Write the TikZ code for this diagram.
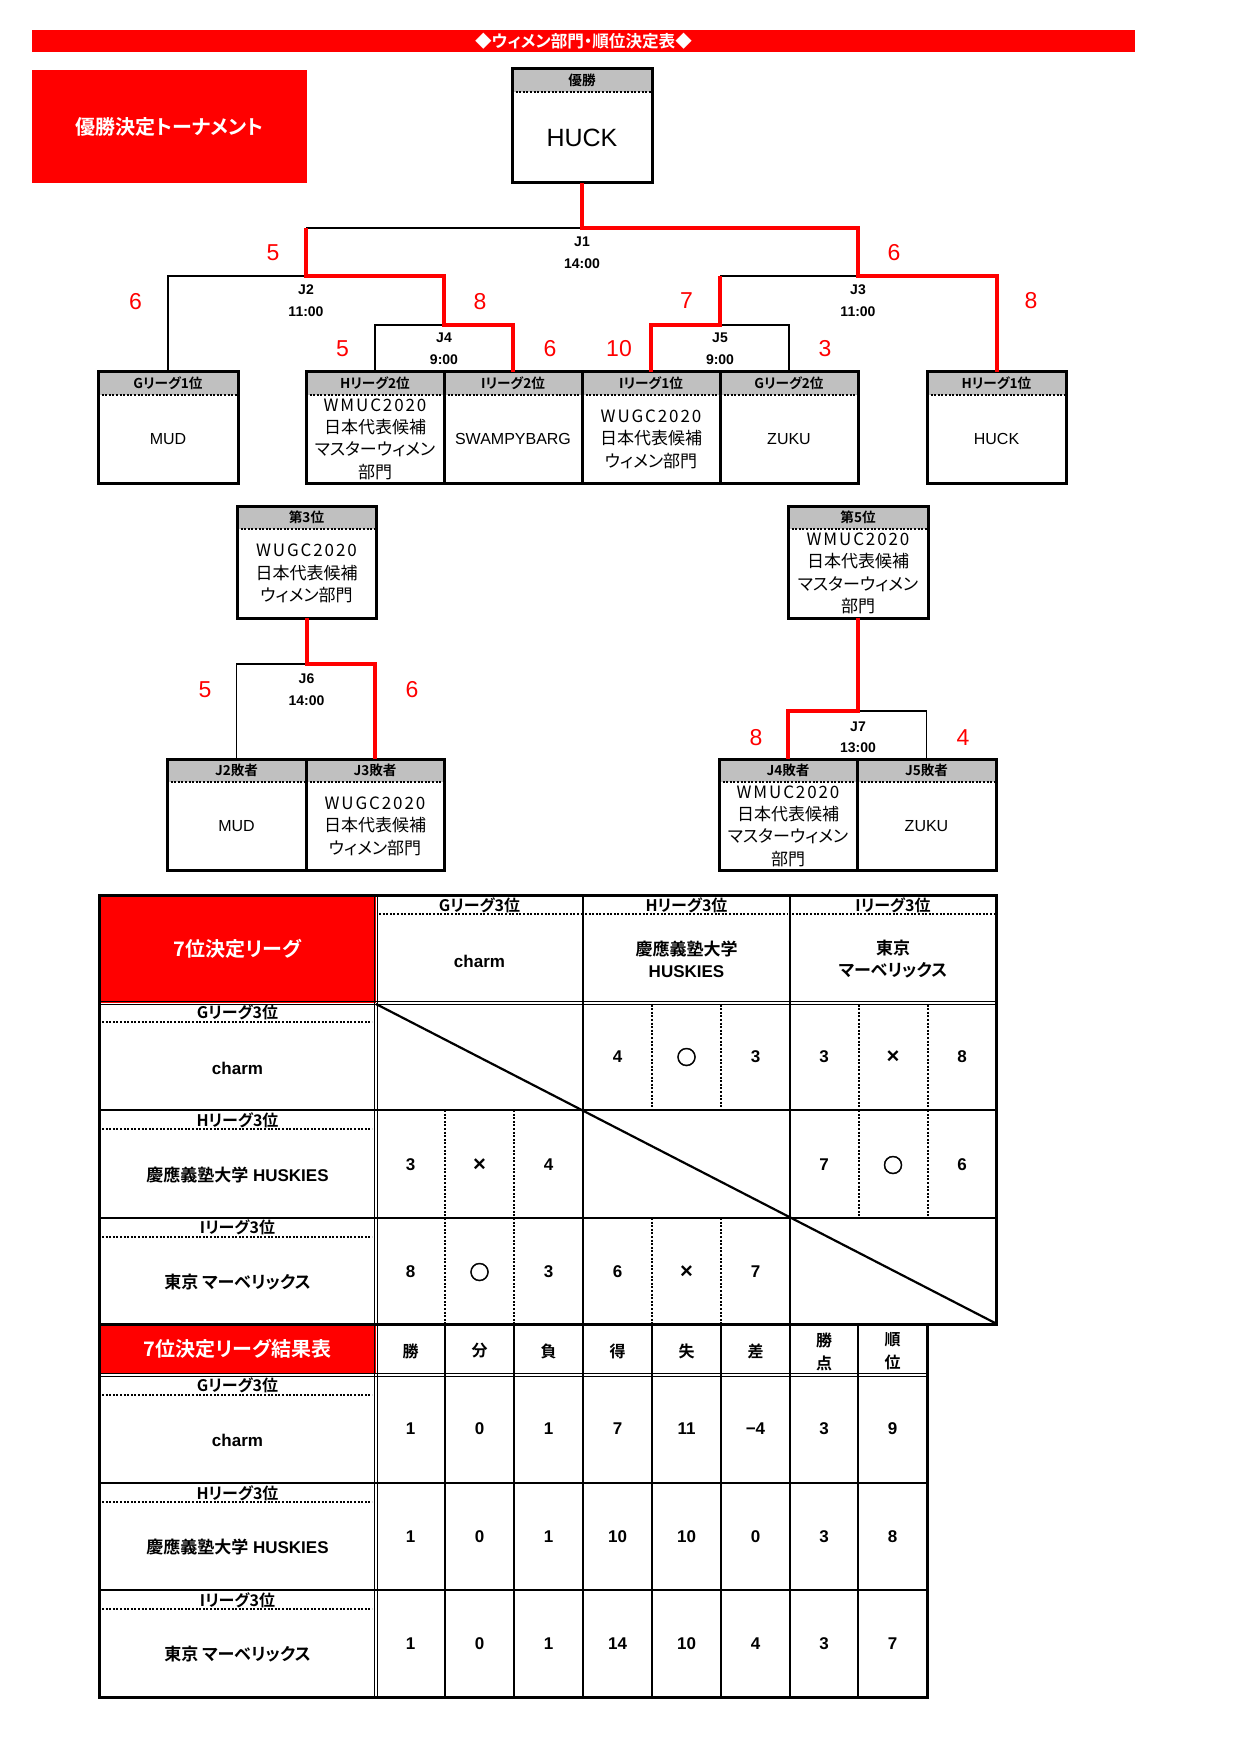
\documentclass[tikz,border=0pt]{standalone}
\usepackage{fontspec}
\setmainfont{Liberation Sans}
\newfontfamily\jp{Noto Sans CJK JP}[BoldFont={Noto Sans CJK JP Bold},RawFeature=+palt]
\newfontfamily\jpw{Noto Sans CJK JP}[LetterSpace=11]
\newfontfamily\maru{Noto Sans CJK JP Bold}[FakeBold=2.5]
\usetikzlibrary{calc,fit}
\definecolor{rd}{HTML}{FF0000}
\definecolor{hdrgray}{HTML}{C0C0C0}
\newcommand\TeamBox[7]{%
  \node[tframe, fit={(#2,#3) (#4,#5)}] (#1) {};
  \node[hdrtxt] (#1-h) at ($(#1.north)+(0,11.5)$) {#6};
  \node[conttxt] (#1-c) at ($(#1.center)+(0,11.5)$) {#7};
}
\newcommand\Maru{{\maru\fontsize{10}{10}\selectfont ○}}
\newcommand\Batsu{{\fontsize{11}{11}\selectfont ×}}
\newcommand\lt{\rmfamily\fontsize{8}{10}\selectfont}
\begin{document}
\begin{tikzpicture}[x=0.5pt,y=-0.5pt,
  tframe/.style={draw=black, line width=1.5pt, inner sep=0pt, outer sep=0pt,
    path picture={
      \fill[hdrgray] (path picture bounding box.north west) rectangle ([yshift=-11.5pt]path picture bounding box.north east);
      \draw[line width=1pt, dash pattern=on 1pt off 0.8pt] ([yshift=-11.5pt]path picture bounding box.north west) -- ([yshift=-11.5pt]path picture bounding box.north east);
    }},
  hdrtxt/.style={inner sep=0pt, font=\jp\bfseries\fontsize{6.8}{8}\selectfont},
  conttxt/.style={inner sep=0pt, align=center, font=\jp\fontsize{8.5}{11.2}\selectfont},
  lose/.style={draw=black, line width=0.75pt},
  win/.style={draw=rd, line width=2pt},
  score/.style={inner sep=0pt, text=rd, font=\fontsize{11.5}{13}\selectfont},
  jlab/.style={inner sep=0pt, font=\bfseries\fontsize{7}{8}\selectfont},
  gridln/.style={line width=0.75pt},
  dblln/.style={line width=0.6pt},
  dotln/.style={line width=1pt, dash pattern=on 1pt off 0.8pt},
  tlab/.style={inner sep=0pt, anchor=base, font=\jp\bfseries\fontsize{8}{9}\selectfont},
  tname/.style={inner sep=0pt, align=center, font=\bfseries\fontsize{8.5}{11}\selectfont},
  valtxt/.style={inner sep=0pt, font=\bfseries\fontsize{8.5}{10}\selectfont},
  hdr2/.style={inner sep=0pt, align=center, font=\jp\bfseries\fontsize{8}{11.5}\selectfont},
  whitetitle/.style={inner sep=0pt, text=white, font=\jp\bfseries\fontsize{10}{12}\selectfont},
  redcell/.style={fill=rd, inner sep=0pt, outer sep=0pt},
]
\useasboundingbox (0,0) rectangle (1240,1754);
\fill[white] (0,0) rectangle (1240,1754);

% ---------- title ----------
\node[redcell, fit={(32,30) (1135,52)}] (titlebar) {};
\node[inner sep=0pt, text=white, font=\jp\bfseries\fontsize{8.3}{9}\selectfont] (titletext) at (titlebar.center) {◆ウィメン部門・順位決定表◆};
\node[redcell, fit={(32,70) (307,183)}] (tourbox) {};
\node[whitetitle] (tourtext) at (tourbox.center) {優勝決定トーナメント};

% ---------- boxes ----------
\TeamBox{champ}{512}{69}{652}{183}{優勝}{\rmfamily\fontsize{12.5}{14}\selectfont HUCK}
\TeamBox{mud}{98}{372}{238}{483}{Gリーグ1位}{\lt MUD}
\TeamBox{h2}{306}{372}{444}{483}{Hリーグ2位}{{\jpw WMUC2020}\\日本代表候補\\マスターウィメン\\部門}
\TeamBox{i2}{444}{372}{582}{483}{Iリーグ2位}{\lt SWAMPYBARG}
\TeamBox{i1}{582}{372}{720}{483}{Iリーグ1位}{{\jpw WUGC2020}\\日本代表候補\\ウィメン部門}
\TeamBox{g2}{720}{372}{858}{483}{Gリーグ2位}{\lt ZUKU}
\TeamBox{h1}{927}{372}{1066}{483}{Hリーグ1位}{\lt HUCK}
\TeamBox{third}{237}{506}{376}{618}{第3位}{{\jpw WUGC2020}\\日本代表候補\\ウィメン部門}
\TeamBox{fifth}{788}{506}{928}{618}{第5位}{{\jpw WMUC2020}\\日本代表候補\\マスターウィメン\\部門}
\TeamBox{j2l}{167}{759}{306}{870}{J2敗者}{\lt MUD}
\TeamBox{j3l}{306}{759}{444}{870}{J3敗者}{{\jpw WUGC2020}\\日本代表候補\\ウィメン部門}
\TeamBox{j4l}{719}{759}{857}{870}{J4敗者}{{\jpw WMUC2020}\\日本代表候補\\マスターウィメン\\部門}
\TeamBox{j5l}{857}{759}{996}{870}{J5敗者}{\lt ZUKU}

% ---------- junctions ----------
\coordinate (J1) at (582,228); \coordinate (J1L) at (306,228);
\coordinate (J2) at (306,276);
\coordinate (J3) at (858,276); \coordinate (J3L) at (720,276);
\coordinate (J4) at (444,325);
\coordinate (J5) at (720,325);
\coordinate (J6) at (306.5,664);
\coordinate (J7) at (858,711);

% losing branches
\draw[lose] (mud.north) |- (J2);
\draw[lose] (h2.north) |- (J4);
\draw[lose] (J1L) -- (J1);
\draw[lose] (g2.north) |- (J5);
\draw[lose] (J3L) -- (J3);
\draw[lose] (j2l.north) |- (J6);
\draw[lose] (j5l.north) |- (J7);
% winning branches
\draw[win] (i2.north) |- (J4) |- (J2) -- (J1L);
\draw[win] (i1.north) |- (J5) -- (J3L);
\draw[win] (h1.north) |- (J3) |- (J1) -- (champ.south);
\draw[win] (j3l.north) |- (J6) -- (third.south);
\draw[win] (j4l.north) |- (J7) -- (fifth.south);

% match labels
\node[jlab] (J1a) at (582,242) {J1}; \node[jlab] (J1b) at (582,264) {14:00};
\node[jlab] (J2a) at (306,290) {J2}; \node[jlab] (J2b) at (306,312) {11:00};
\node[jlab] (J3a) at (858,290) {J3}; \node[jlab] (J3b) at (858,312) {11:00};
\node[jlab] (J4a) at (444,338) {J4}; \node[jlab] (J4b) at (444,360) {9:00};
\node[jlab] (J5a) at (720,338) {J5}; \node[jlab] (J5b) at (720,360) {9:00};
\node[jlab] (J6a) at (306.5,679) {J6}; \node[jlab] (J6b) at (306.5,701) {14:00};
\node[jlab] (J7a) at (858,727) {J7}; \node[jlab] (J7b) at (858,748) {13:00};

% scores
\node[score] (s1) at (273,253) {5};
\node[score] (s2) at (894,253) {6};
\node[score] (s3) at (135.5,302) {6};
\node[score] (s4) at (480,302) {8};
\node[score] (s5) at (686.5,301) {7};
\node[score] (s6) at (1031,301) {8};
\node[score] (s7) at (342.5,349) {5};
\node[score] (s8) at (550,349) {6};
\node[score] (s9) at (619,349) {10};
\node[score] (s10) at (825,349) {3};
\node[score] (s11) at (205,690) {5};
\node[score] (s12) at (412,690) {6};
\node[score] (s13) at (756,738) {8};
\node[score] (s14) at (963,738) {4};

% ---------- league table ----------
\node[redcell, fit={(99,895) (376,1003)}] (lgtitle) {};
\node[whitetitle] (lgtitle-t) at (lgtitle.center) {7位決定リーグ};
\node[redcell, fit={(99,1324) (376,1373)}] (restitle) {};
\node[whitetitle] (restitle-t) at (restitle.center) {7位決定リーグ結果表};

% grid lines table 1
\draw[gridln] (583,895) -- (583,1324);
\draw[gridln] (790,895) -- (790,1324);
\draw[gridln] (99,1110) -- (996,1110);
\draw[gridln] (99,1218) -- (996,1218);
\draw[dblln] (99,1001.5) -- (996,1001.5);
\draw[dblln] (99,1004.5) -- (996,1004.5);
\draw[dblln] (374.5,895) -- (374.5,1697);
\draw[dblln] (377.5,895) -- (377.5,1697);
% dotted lines table 1
\draw[dotln] (379,914) -- (581,914);
\draw[dotln] (585,914) -- (788,914);
\draw[dotln] (792,914) -- (994,914);
\foreach \yy in {1022,1129,1237,1395,1502,1609}
  \draw[dotln] (102,\yy) -- (372,\yy);
\foreach \xx/\ya/\yb in {652/1004.5/1110, 721/1004.5/1110, 859/1004.5/1110, 928/1004.5/1110,
  445/1110/1218, 514/1110/1218, 859/1110/1218, 928/1110/1218,
  445/1218/1324, 514/1218/1324, 652/1218/1324, 721/1218/1324}
  \draw[dotln] (\xx,\ya) -- (\xx,\yb);
\draw[line width=1.1pt] (376,1004) -- (997,1324);

% grid lines results
\foreach \xx in {445,514,583,652,721}
  \draw[gridln] (\xx,1324) -- (\xx,1697);
\draw[line width=1.25pt] (790,1324) -- (790,1697);
\draw[line width=1.25pt] (858,1324) -- (858,1697);
\draw[dblln] (99,1373.5) -- (927,1373.5);
\draw[dblln] (99,1376.5) -- (927,1376.5);
\draw[gridln] (99,1483) -- (927,1483);
\draw[gridln] (99,1590) -- (927,1590);
\draw[line width=1.5pt] (99,895) rectangle (996,1324);
\draw[line width=1.5pt] (99,1324) rectangle (927,1697);

% column headers
\node[tlab] (cG-l) at (479.5,911) {Gリーグ3位};
\node[tlab] (cH-l) at (686.5,911) {Hリーグ3位};
\node[tlab] (cI-l) at (893,911) {Iリーグ3位};
\node[tname] (cG-n) at (479.5,961) {charm};
\node[tname] (cH-n) at (686.5,959) {{\jp 慶應義塾大学}\\HUSKIES};
\node[tname] (cI-n) at (893,959) {{\jp 東京}\\{\jp マーベリックス}};

% row headers table 1
\node[tlab] (rG-l) at (237.5,1018) {Gリーグ3位};
\node[tlab] (rH-l) at (237.5,1126) {Hリーグ3位};
\node[tlab] (rI-l) at (237.5,1233) {Iリーグ3位};
\node[tname] (rG-n) at (237.5,1068) {charm};
\node[tname] (rH-n) at (237.5,1175) {{\jp 慶應義塾大学} HUSKIES};
\node[tname] (rI-n) at (237.5,1282) {{\jp 東京 マーベリックス}};

% values table 1
\foreach \x/\v [count=\c] in {617.5/4, 686.5/\Maru, 755.5/3, 824/3, 893/\Batsu, 962/8}
  \node[valtxt] (m1-\c) at (\x,1057) {\v};
\foreach \x/\v [count=\c] in {410.5/3, 479.5/\Batsu, 548.5/4, 824/7, 893/\Maru, 962/6}
  \node[valtxt] (m2-\c) at (\x,1165) {\v};
\foreach \x/\v [count=\c] in {410.5/8, 479.5/\Maru, 548.5/3, 617.5/6, 686.5/\Batsu, 755.5/7}
  \node[valtxt] (m3-\c) at (\x,1272) {\v};

% results headers
\foreach \x/\v [count=\c] in {410.5/勝, 479.5/分, 548.5/負, 617.5/得, 686.5/失, 755.5/差}
  \node[hdr2] (rh-\c) at (\x,1351) {\v};
\node[hdr2] (rh-7) at (824,1351.5) {勝\\点};
\node[hdr2] (rh-8) at (892.5,1351.5) {順\\位};

% results row headers
\node[tlab] (qG-l) at (237.5,1391) {Gリーグ3位};
\node[tlab] (qH-l) at (237.5,1499) {Hリーグ3位};
\node[tlab] (qI-l) at (237.5,1606) {Iリーグ3位};
\node[tname] (qG-n) at (237.5,1440) {charm};
\node[tname] (qH-n) at (237.5,1547) {{\jp 慶應義塾大学} HUSKIES};
\node[tname] (qI-n) at (237.5,1654) {{\jp 東京 マーベリックス}};

% results values
\foreach \x/\v [count=\c] in {410.5/1,479.5/0,548.5/1,617.5/7,686.5/11,755.5/−4,824/3,892.5/9}
  \node[valtxt] (ra-\c) at (\x,1429) {\v};
\foreach \x/\v [count=\c] in {410.5/1,479.5/0,548.5/1,617.5/10,686.5/10,755.5/0,824/3,892.5/8}
  \node[valtxt] (rb-\c) at (\x,1537) {\v};
\foreach \x/\v [count=\c] in {410.5/1,479.5/0,548.5/1,617.5/14,686.5/10,755.5/4,824/3,892.5/7}
  \node[valtxt] (rc-\c) at (\x,1644) {\v};
\end{tikzpicture}
\end{document}
